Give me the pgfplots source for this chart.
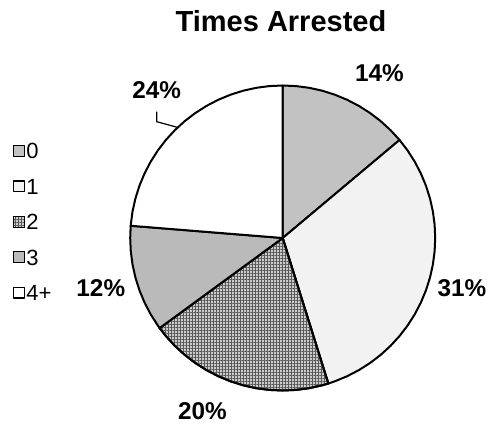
\documentclass[border=0pt]{standalone}
\usepackage{pgfplots}
\pgfplotsset{compat=1.18}
\usepackage{fontspec}
\setmainfont{Liberation Sans}
\usetikzlibrary{patterns.meta}

\definecolor{slice0}{gray}{0.76}
\definecolor{slice1}{gray}{0.95}
\definecolor{slice2}{gray}{0.80}
\definecolor{slice3}{gray}{0.73}
\definecolor{slice4}{gray}{1.00}

\begin{document}
\begin{tikzpicture}
\begin{axis}[
    x=1bp, y=1bp,
    xmin=-282.7, xmax=205.3,
    ymin=-185, ymax=238,
    hide axis, clip=false,
    every axis plot/.append style={draw=black, line width=2bp, line join=round},
    key/.style={forget plot, line width=1.2bp},
    hatched/.style={postaction={pattern color=black!65, pattern={Hatch[angle=0,distance=3bp,line width=0.6bp]}}},
]
% keep the whole axis box as the picture's extent
\path (rel axis cs:0,0) rectangle (rel axis cs:1,1);

% slices: (angle in degrees, radius)
\addplot[data cs=polar, fill=slice0] coordinates {
    (0,0)(90,152.5)(85,152.5)(80,152.5)(75,152.5)(70,152.5)(65,152.5)
    (60,152.5)(55,152.5)(50,152.5)(45,152.5)(40,152.5)(0,0)
} -- cycle;

\addplot[data cs=polar, fill=slice1] coordinates {
    (0,0)(40,152.5)(35,152.5)(30,152.5)(25,152.5)(20,152.5)(15,152.5)
    (10,152.5)(5,152.5)(0,152.5)(-5,152.5)(-10,152.5)(-15,152.5)
    (-20,152.5)(-25,152.5)(-30,152.5)(-35,152.5)(-40,152.5)(-45,152.5)
    (-50,152.5)(-55,152.5)(-60,152.5)(-65,152.5)(-70,152.5)(-72.6,152.5)(0,0)
} -- cycle;

\addplot[data cs=polar, fill=slice2, hatched] coordinates {
    (0,0)(-72.6,152.5)(-75,152.5)(-80,152.5)(-85,152.5)(-90,152.5)(-95,152.5)
    (-100,152.5)(-105,152.5)(-110,152.5)(-115,152.5)(-120,152.5)(-125,152.5)
    (-130,152.5)(-135,152.5)(-140,152.5)(-143.8,152.5)(0,0)
} -- cycle;

\addplot[data cs=polar, fill=slice3] coordinates {
    (0,0)(-143.8,152.5)(-145,152.5)(-150,152.5)(-155,152.5)(-160,152.5)
    (-165,152.5)(-170,152.5)(-175,152.5)(-180,152.5)(-184.6,152.5)(0,0)
} -- cycle;

\addplot[data cs=polar, fill=slice4] coordinates {
    (0,0)(-184.6,152.5)(-185,152.5)(-190,152.5)(-195,152.5)(-200,152.5)
    (-205,152.5)(-210,152.5)(-215,152.5)(-220,152.5)(-225,152.5)(-230,152.5)
    (-235,152.5)(-240,152.5)(-245,152.5)(-250,152.5)(-255,152.5)(-260,152.5)
    (-265,152.5)(-270,152.5)(0,0)
} -- cycle;

% leader line of the 24% label
\addplot[black, line width=1.2bp, line join=miter, forget plot] coordinates {
    (-126,126.3)(-126,116.3)(-105.4,110.7)
};

% legend keys
\addplot[key, fill=slice0] coordinates {(-269.4,81.6)(-258.6,81.6)(-258.6,92.4)(-269.4,92.4)} -- cycle;
\addplot[key, fill=slice1] coordinates {(-269.4,46.2)(-258.6,46.2)(-258.6,57.0)(-269.4,57.0)} -- cycle;
\addplot[key, fill=slice2, hatched] coordinates {(-269.4,10.8)(-258.6,10.8)(-258.6,21.6)(-269.4,21.6)} -- cycle;
\addplot[key, fill=slice3] coordinates {(-269.4,-24.6)(-258.6,-24.6)(-258.6,-13.8)(-269.4,-13.8)} -- cycle;
\addplot[key, fill=slice4] coordinates {(-269.4,-60.0)(-258.6,-60.0)(-258.6,-49.2)(-269.4,-49.2)} -- cycle;

\tikzset{leg/.style={anchor=base west, inner sep=0pt, font=\fontsize{22bp}{25bp}\selectfont}}
\node[leg] at (axis cs:-256.6,79.1) {0};
\node[leg] at (axis cs:-256.6,43.7) {1};
\node[leg] at (axis cs:-256.6,8.3) {2};
\node[leg] at (axis cs:-256.6,-27.1) {3};
\node[leg] at (axis cs:-256.6,-62.5) {4+};

\node[anchor=base, font=\bfseries\fontsize{29bp}{34bp}\selectfont] at (axis cs:-1.7,206) {Times Arrested};

\tikzset{lbl/.style={anchor=base, inner sep=0pt, font=\bfseries\fontsize{24.3bp}{28bp}\selectfont}}
\node[lbl] at (axis cs:96.8,157) {14\%};
\node[lbl] at (axis cs:179.3,-58.7) {31\%};
\node[lbl] at (axis cs:-80.2,-181) {20\%};
\node[lbl] at (axis cs:-181.9,-58.7) {12\%};
\node[lbl] at (axis cs:-126,140) {24\%};

\end{axis}
\end{tikzpicture}
\end{document}
